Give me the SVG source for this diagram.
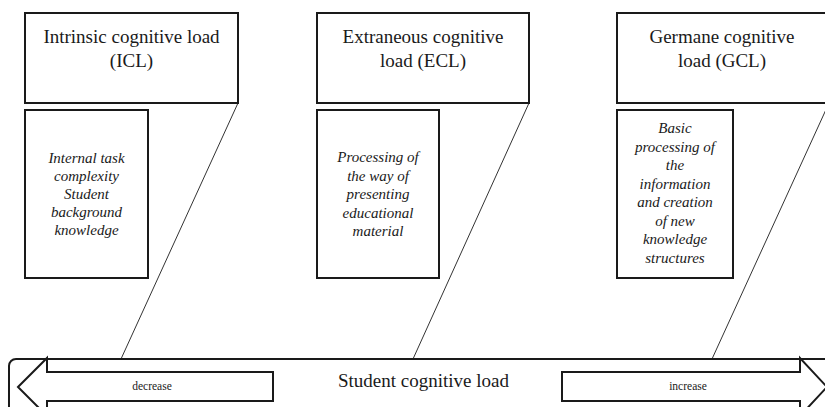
<svg xmlns="http://www.w3.org/2000/svg" width="825" height="407" viewBox="0 0 825 407">
<style>
.box{fill:#fff;stroke:#1a1a1a;stroke-width:2}
.ln{fill:none;stroke:#333;stroke-width:1}
.t{font-family:"Liberation Serif","Times New Roman",serif;font-size:19px;fill:#1a1a1a;text-anchor:middle}
.it{font-family:"Liberation Serif","Times New Roman",serif;font-size:15px;font-style:italic;fill:#1a1a1a;text-anchor:middle}
.sm{font-family:"Liberation Serif","Times New Roman",serif;font-size:11.5px;fill:#1a1a1a;text-anchor:middle}
</style>
<rect width="825" height="407" fill="#fff"/>
<g id="connectors">
<line class="ln" x1="238" y1="103" x2="121" y2="359"/>
<line class="ln" x1="529" y1="103" x2="413" y2="359"/>
<line class="ln" x1="829" y1="103" x2="712" y2="359"/>
</g>
<g id="icl">
<rect class="box" x="25" y="13" width="213" height="90"/>
<text class="t" x="131.5" y="43">Intrinsic cognitive load</text>
<text class="t" x="131.5" y="67">(ICL)</text>
</g>
<g id="icl-detail">
<rect class="box" x="25" y="110" width="123" height="168"/>
<text class="it" x="86.5" y="163">Internal task</text>
<text class="it" x="86.5" y="181">complexity</text>
<text class="it" x="86.5" y="199">Student</text>
<text class="it" x="86.5" y="217">background</text>
<text class="it" x="86.5" y="235">knowledge</text>
</g>
<g id="ecl">
<rect class="box" x="317" y="13" width="212" height="90"/>
<text class="t" x="423" y="43">Extraneous cognitive</text>
<text class="t" x="423" y="67">load (ECL)</text>
</g>
<g id="ecl-detail">
<rect class="box" x="317" y="110" width="122" height="168"/>
<text class="it" x="378" y="162">Processing of</text>
<text class="it" x="378" y="180.5">the way of</text>
<text class="it" x="378" y="199">presenting</text>
<text class="it" x="378" y="217.5">educational</text>
<text class="it" x="378" y="236">material</text>
</g>
<g id="gcl">
<rect class="box" x="617" y="13" width="212" height="90"/>
<text class="t" x="722" y="43">Germane cognitive</text>
<text class="t" x="722" y="67">load (GCL)</text>
</g>
<g id="gcl-detail">
<rect class="box" x="617" y="110" width="116" height="168"/>
<text class="it" x="675" y="133">Basic</text>
<text class="it" x="675" y="151.5">processing of</text>
<text class="it" x="675" y="170">the</text>
<text class="it" x="675" y="188.5">information</text>
<text class="it" x="675" y="207">and creation</text>
<text class="it" x="675" y="225.5">of new</text>
<text class="it" x="675" y="244">knowledge</text>
<text class="it" x="675" y="262.5">structures</text>
</g>
<g id="scale">
<rect class="box" x="9" y="359" width="840" height="80" rx="7"/>
<text class="t" x="423.5" y="387">Student cognitive load</text>
</g>
<g id="decrease">
<polygon class="box" points="18,387 47,358 47,372 273,372 273,401 47,401 47,416"/>
<text class="sm" x="152" y="390">decrease</text>
</g>
<g id="increase">
<polygon class="box" points="827,387 800,358 800,372 562,372 562,401 800,401 800,416"/>
<text class="sm" x="688" y="390">increase</text>
</g>
</svg>
